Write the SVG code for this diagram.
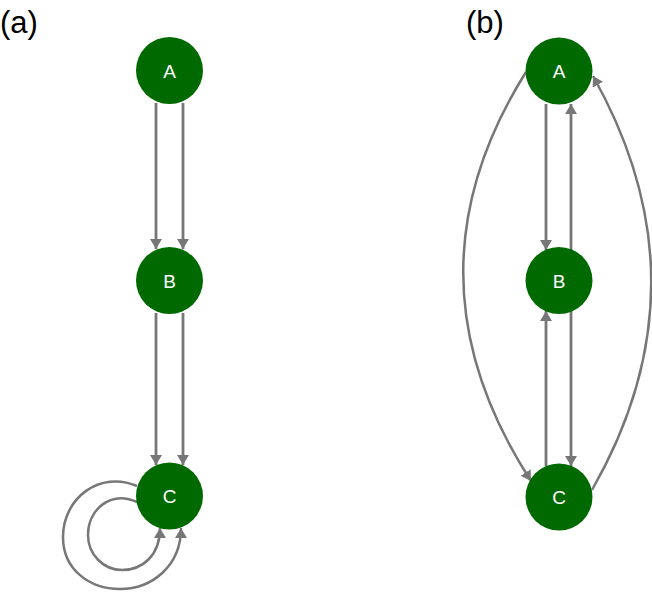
<svg xmlns="http://www.w3.org/2000/svg" width="652" height="593" viewBox="0 0 652 593">
<defs>
<style>
.node circle{fill:#006a00}
.node text{fill:#fff;font-family:"Liberation Sans",Arial,sans-serif;font-size:19px;text-anchor:middle}
.edge{fill:none;stroke:#777;stroke-width:2.5}
.straight{stroke-width:2.8}
.lbl{font-family:"Liberation Sans",Arial,sans-serif;font-size:31px;fill:#000}
</style>
<marker id="ah" viewBox="0 0 10 12" refX="10" refY="6" markerWidth="10" markerHeight="12" markerUnits="userSpaceOnUse" orient="auto">
<path d="M0,0 L10,6 L0,12 Z" fill="#777"/>
</marker>
</defs>
<rect width="652" height="593" fill="#fff"/>
<text class="lbl" x="0" y="33">(a)</text>
<text class="lbl" x="466" y="33">(b)</text>
<g id="connectors">
<path class="edge straight" d="M156,103 L156,249" marker-end="url(#ah)"/>
<path class="edge straight" d="M183,103 L183,249" marker-end="url(#ah)"/>
<path class="edge straight" d="M156,313 L156,465" marker-end="url(#ah)"/>
<path class="edge straight" d="M183,313 L183,465" marker-end="url(#ah)"/>
<path class="edge" d="M137,486 C100,470 63,498 63,537 C63,570 90,589 120,589 C152,589 181,566 181,528" marker-end="url(#ah)"/>
<path class="edge" d="M137,502 C110,490 88,510 88,535 C88,555 104,570 122,570 C142,570 160,556 160,528" marker-end="url(#ah)"/>
<path class="edge straight" d="M546,104 L546,250" marker-end="url(#ah)"/>
<path class="edge straight" d="M571,250 L571,104" marker-end="url(#ah)"/>
<path class="edge straight" d="M571,311 L571,466" marker-end="url(#ah)"/>
<path class="edge straight" d="M546,466 L546,311" marker-end="url(#ah)"/>
<path class="edge" d="M526,72 Q398,276 531,481" marker-end="url(#ah)"/>
<path class="edge" d="M592,490 Q710,284 593,76" marker-end="url(#ah)"/>
</g>
<g id="a-A" class="node"><circle cx="169.5" cy="70.5" r="33.5"/><text x="169.5" y="77.5">A</text></g>
<g id="a-B" class="node"><circle cx="169.5" cy="280.5" r="33.5"/><text x="169.5" y="287.5">B</text></g>
<g id="a-C" class="node"><circle cx="169.5" cy="496" r="33.5"/><text x="169.5" y="503">C</text></g>
<g id="b-A" class="node"><circle cx="559" cy="71" r="33.5"/><text x="559" y="78">A</text></g>
<g id="b-B" class="node"><circle cx="559" cy="280.5" r="33.5"/><text x="559" y="287.5">B</text></g>
<g id="b-C" class="node"><circle cx="559" cy="497" r="33.5"/><text x="559" y="504">C</text></g>
</svg>
